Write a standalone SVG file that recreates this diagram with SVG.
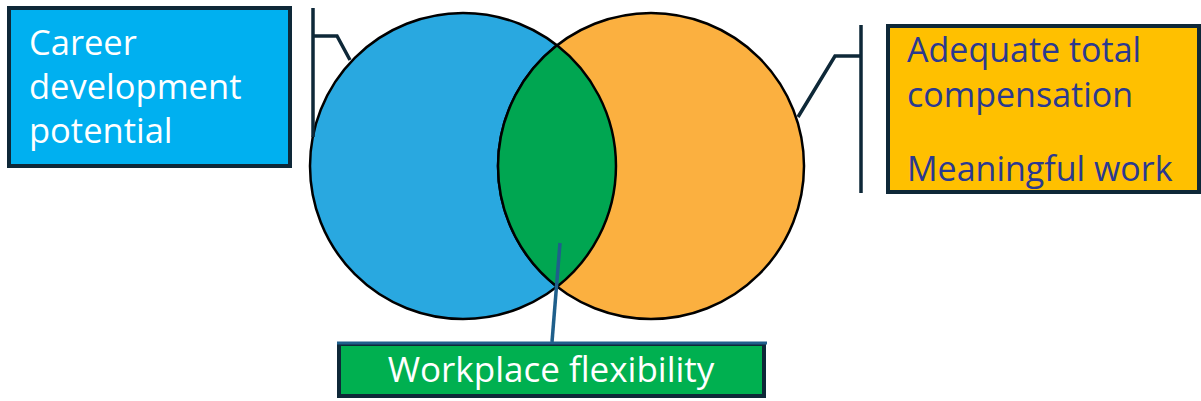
<svg xmlns="http://www.w3.org/2000/svg" width="1201" height="401" viewBox="0 0 1201 401">
<style>
.lbl{font-family:"Open Sans","Liberation Sans",Arial,sans-serif;font-size:35px}
.circ{stroke:#000;stroke-width:2.5}
.br{fill:none;stroke:#0e2838;stroke-width:3.5}
.box{stroke:#0e2838;stroke-width:4}
</style>
<rect width="1201" height="401" fill="#fff"/>
<g id="venn">
<circle id="circle-left" class="circ" cx="463" cy="166" r="153" fill="#29a8e0"/>
<circle id="circle-right" class="circ" cx="651" cy="166" r="153" fill="#fbb040"/>
<path id="lens" class="circ" d="M557,45.3 A153,153 0 0 1 557,286.7 A153,153 0 0 1 557,45.3 Z" fill="#00a651"/>
</g>
<g id="connectors">
<path class="br" d="M313,8 V137 M313,36 H337 L350,60"/>
<path class="br" d="M861,25 V193 M861,56 H835 L798,117"/>
<path d="M560,243 L552,342" fill="none" stroke="#1f5f8b" stroke-width="3.5"/>
</g>
<g id="node-career">
<rect class="box" x="9" y="8" width="281" height="158" fill="#00b0f0"/>
<text class="lbl" fill="#fff" style="font-size:34.5px"><tspan x="29" y="55">Career</tspan><tspan x="29" y="99">development</tspan><tspan x="29" y="143">potential</tspan></text>
</g>
<g id="node-compensation">
<rect class="box" x="888" y="26" width="311" height="166" fill="#ffc000"/>
<text class="lbl" fill="#2b3990" style="font-size:34px"><tspan x="907" y="62">Adequate total</tspan><tspan x="907" y="107">compensation</tspan><tspan x="907" y="181">Meaningful work</tspan></text>
</g>
<g id="node-flexibility">
<rect class="box" x="339" y="344" width="425" height="52" fill="#00b050"/>
<line x1="337" y1="343" x2="767" y2="343" stroke="#1f5f8b" stroke-width="3"/>
<text class="lbl" fill="#fff" x="551" y="382" text-anchor="middle">Workplace flexibility</text>
</g>
</svg>
